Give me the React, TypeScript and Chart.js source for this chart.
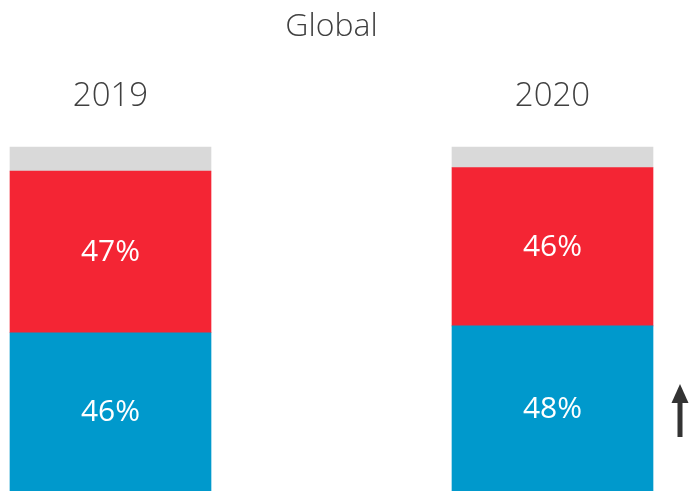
import React, { useEffect, useRef } from "react";
import { Chart, registerables } from "chart.js";

Chart.register(...registerables);

const title = "Global";
const categories = ["2019", "2020"];
const blueValues = [46, 48];
const redValues = [47, 46];
const greyValues = [7, 6];
const blueLabels = ["46%", "48%"];
const redLabels = ["47%", "46%"];

const FONT = "'Open Sans', 'DejaVu Sans', sans-serif";
const TEXT = "#404040";

const overlayPlugin = {
  id: "overlay",
  afterDatasetsDraw(chart: any) {
    const ctx = chart.ctx;
    const xs = chart.scales.x;
    ctx.save();
    ctx.textAlign = "center";
    ctx.textBaseline = "middle";
    // Title
    ctx.fillStyle = TEXT;
    ctx.font = `300 32px ${FONT}`;
    const cx = (xs.getPixelForValue(0) + xs.getPixelForValue(1)) / 2;
    ctx.fillText(title, cx, 27);
    // Year labels
    ctx.font = `300 33px ${FONT}`;
    categories.forEach((c, i) => {
      ctx.fillText(c, xs.getPixelForValue(i), 97);
    });
    // value labels
    ctx.fillStyle = "#ffffff";
    ctx.font = `400 30px ${FONT}`;
    const labelSets = [blueLabels, redLabels];
    labelSets.forEach((labels, di) => {
      const meta = chart.getDatasetMeta(di);
      meta.data.forEach((bar: any, i: number) => {
        const yc = (bar.y + bar.base) / 2;
        ctx.fillText(labels[i], bar.x, yc + 1);
      });
    });
    // arrow next to 2020 bar
    const ax = xs.getPixelForValue(1) + 127.5;
    ctx.fillStyle = "#333333";
    ctx.fillRect(ax - 2.5, 402, 5, 35);
    ctx.beginPath();
    ctx.moveTo(ax, 384);
    ctx.lineTo(ax + 8.5, 403);
    ctx.lineTo(ax - 8.5, 403);
    ctx.closePath();
    ctx.fill();
    ctx.restore();
  },
};

export default function App() {
  const ref = useRef<HTMLCanvasElement | null>(null);
  useEffect(() => {
    document.body.style.margin = "0";
    const canvas = ref.current!;
    const chart = new Chart(canvas, {
      type: "bar",
      data: {
        labels: categories,
        datasets: [
          { label: "blue", data: blueValues, backgroundColor: "#0099CC", clip: false as any },
          { label: "red", data: redValues, backgroundColor: "#F42534", clip: false as any },
          { label: "grey", data: greyValues, backgroundColor: "#D9D9D9", clip: false as any },
        ],
      },
      options: {
        responsive: false,
        animation: false,
        devicePixelRatio: 1,
        layout: { padding: { left: 110.5, right: 136.5, top: 147, bottom: 0 } },
        datasets: { bar: { barThickness: 201, borderWidth: 0 } } as any,
        scales: {
          x: { type: "category", stacked: true, offset: false, display: false },
          y: { type: "linear", stacked: true, min: 0, max: 100, display: false },
        },
        plugins: {
          legend: { display: false },
          title: { display: false },
          tooltip: { enabled: false },
        },
      },
      plugins: [overlayPlugin],
    });
    return () => chart.destroy();
  }, []);
  return (
    <div style={{ position: "fixed", left: 0, top: 0, width: 689, height: 491, background: "#fff" }}>
      <canvas ref={ref} width={689} height={491} style={{ display: "block", width: 689, height: 491 }} />
    </div>
  );
}
